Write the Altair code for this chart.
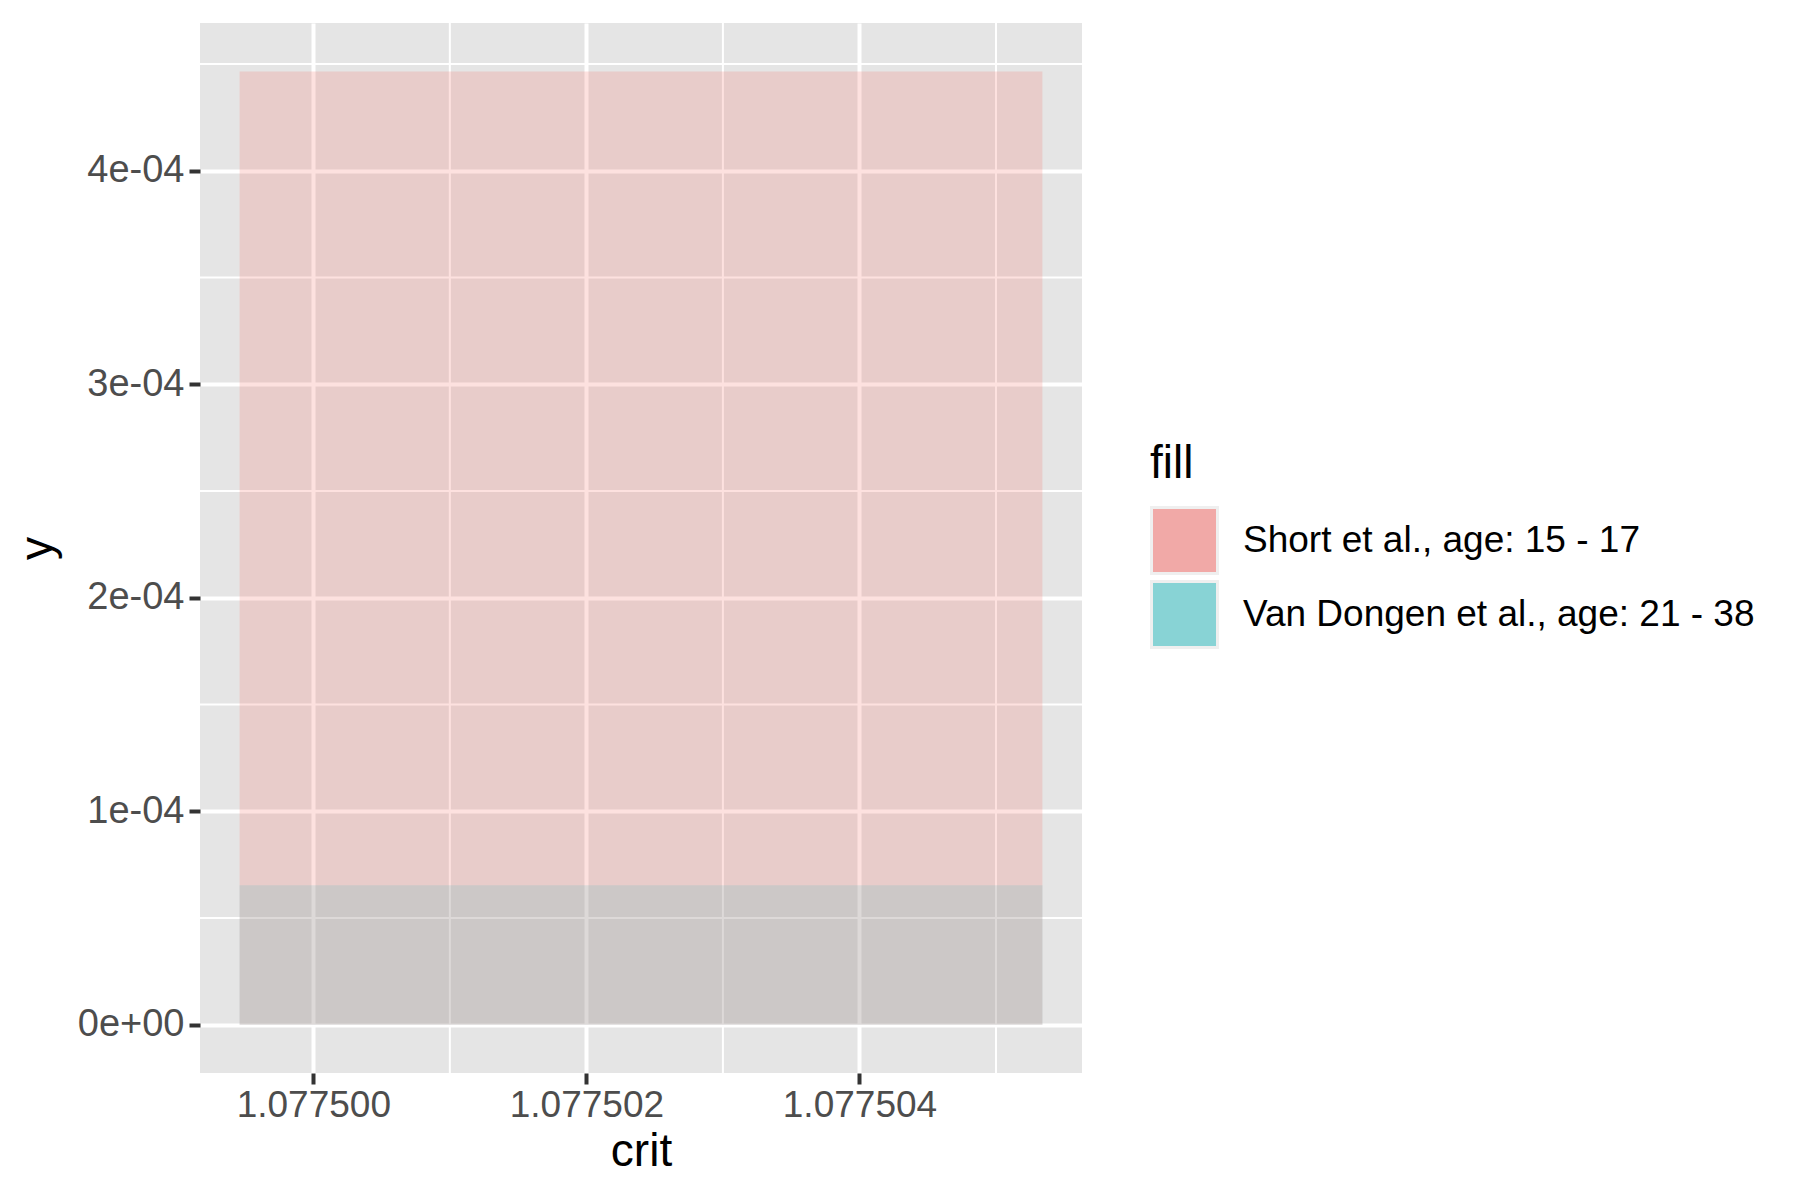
import altair as alt
import pandas as pd

# density blocks (one bin per study)
groups = ["Van Dongen et al., age: 21 - 38", "Short et al., age: 15 - 17"]
x_start = [1.07749946, 1.07749946]
x_end = [1.07750534, 1.07750534]
y_top = [6.54e-05, 4.465e-04]

legend_order = ["Short et al., age: 15 - 17", "Van Dongen et al., age: 21 - 38"]
fill_colors = ["#F8766D", "#00BFC4"]
fill_alpha = [0.22, 0.16]
key_colors = ["#F1A9A7", "#88D3D5"]

x_ticks = [1.0775, 1.077502, 1.077504]
x_minor = [1.077501, 1.077503, 1.077505]
y_ticks = [0.0, 1e-04, 2e-04, 3e-04, 4e-04]
y_minor = [0.5e-04, 1.5e-04, 2.5e-04, 3.5e-04, 4.5e-04]

x_domain = [1.07749917, 1.07750563]
y_domain = [-0.2258e-04, 4.692e-04]

FONT = "Liberation Sans"


def main() -> None:
    df = pd.DataFrame({"fill": groups, "x0": x_start, "x1": x_end, "y0": [0.0, 0.0], "y1": y_top})

    x_scale = alt.Scale(domain=x_domain, nice=False, zero=False)
    y_scale = alt.Scale(domain=y_domain, nice=False, zero=False)

    x_axis = alt.Axis(
        values=x_ticks, format=".6f", title="crit", grid=True, gridColor="white", gridWidth=4,
        tickColor="#333333", tickWidth=4, tickSize=11, domain=False, labelPadding=3,
        labelFont=FONT, labelFontSize=37, labelColor="#4D4D4D",
        titleFont=FONT, titleFontSize=46, titleFontWeight="normal", titleColor="black", titlePadding=6,
    )
    y_axis = alt.Axis(
        values=y_ticks, title="y", grid=True, gridColor="white", gridWidth=4,
        labelExpr="datum.value == 0 ? '0e+00' : format(datum.value * 1e4, 'd') + 'e-04'",
        tickColor="#333333", tickWidth=4, tickSize=11, domain=False, labelPadding=5,
        labelFont=FONT, labelFontSize=38, labelColor="#4D4D4D",
        titleFont=FONT, titleFontSize=46, titleFontWeight="normal", titleColor="black", titlePadding=16,
    )

    minor_x = (
        alt.Chart(pd.DataFrame({"v": x_minor}))
        .mark_rule(color="white", strokeWidth=2)
        .encode(x=alt.X("v:Q", scale=x_scale, axis=x_axis))
    )
    minor_y = (
        alt.Chart(pd.DataFrame({"v": y_minor}))
        .mark_rule(color="white", strokeWidth=2)
        .encode(y=alt.Y("v:Q", scale=y_scale, axis=y_axis))
    )

    rects = (
        alt.Chart(df)
        .mark_rect()
        .encode(
            x=alt.X("x0:Q", scale=x_scale, axis=x_axis),
            x2="x1:Q",
            y=alt.Y("y0:Q", scale=y_scale, axis=y_axis),
            y2="y1:Q",
            color=alt.Color(
                "fill:N",
                scale=alt.Scale(domain=legend_order, range=fill_colors),
                legend=None,
            ),
            opacity=alt.Opacity(
                "fill:N",
                scale=alt.Scale(domain=legend_order, range=fill_alpha),
                legend=None,
            ),
        )
    )

    keys = (
        alt.Chart(df)
        .mark_point(opacity=0, filled=True, shape="square")
        .encode(
            x=alt.X("x0:Q", scale=x_scale, axis=x_axis),
            y=alt.Y("y1:Q", scale=y_scale, axis=y_axis),
            color=alt.Color(
                "fill:N",
                scale=alt.Scale(domain=legend_order, range=key_colors),
                legend=alt.Legend(
                    title="fill", orient="none", legendX=950, legendY=419,
                    symbolType="square", symbolSize=4356, symbolOpacity=1,
                    symbolStrokeColor="#EFEFEF", symbolStrokeWidth=3,
                    rowPadding=-12, labelOffset=24,
                    labelFont=FONT, labelFontSize=37, labelColor="black", labelLimit=600,
                    titleFont=FONT, titleFontSize=46, titleFontWeight="normal", titleColor="black",
                    titlePadding=18,
                ),
            ),
        )
    )

    chart = (
        alt.layer(minor_x, minor_y, rects, keys)
        .resolve_scale(color="independent", opacity="independent")
        .properties(
            width=882, height=1050,
            background="white",
            autosize=alt.AutoSizeParams(type="none"),
            padding={"left": 192, "top": 15, "right": 700, "bottom": 119},
        )
        .configure_view(fill="#E5E5E5", stroke=None)
    )
    chart.save("out.html", embed_options={"renderer": "svg", "actions": False})


if __name__ == "__main__":
    main()
